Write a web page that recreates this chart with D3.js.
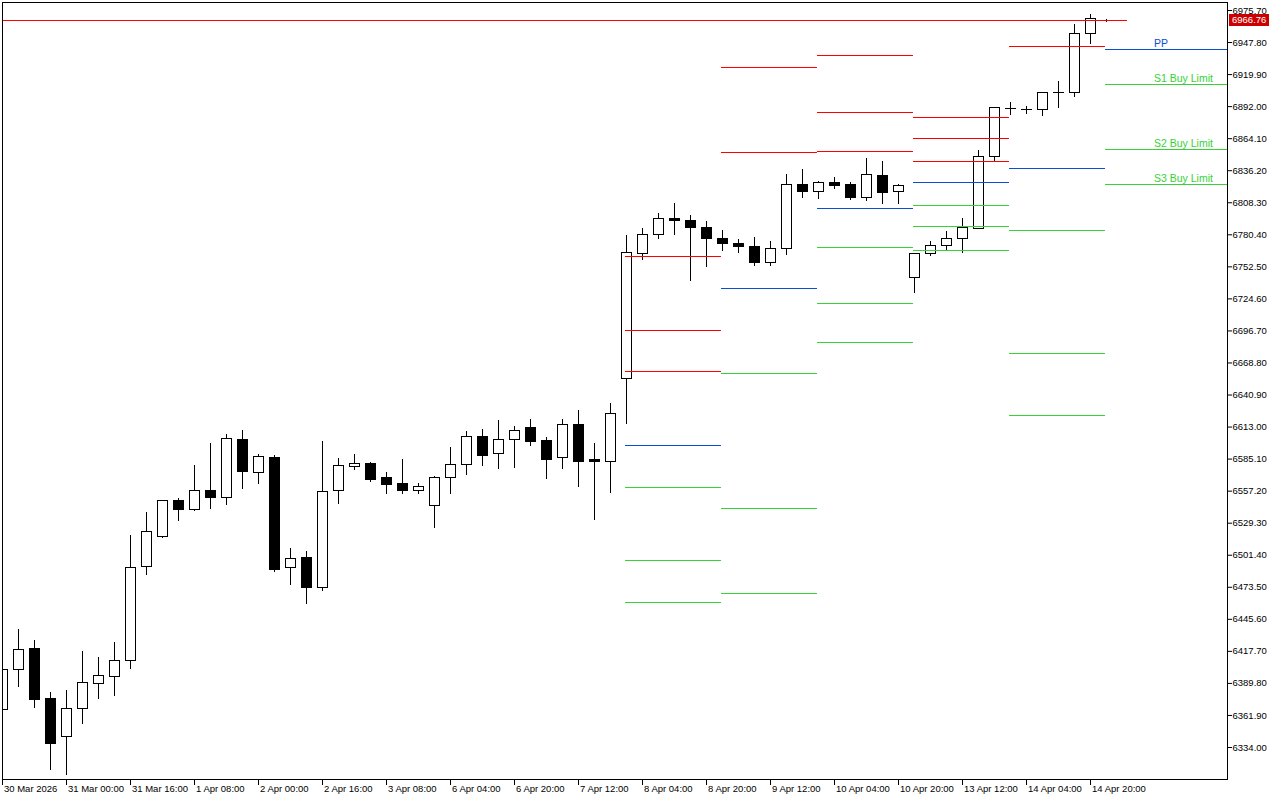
<!DOCTYPE html>
<html><head><meta charset="utf-8">
<script src="https://cdn.jsdelivr.net/npm/d3@7"></script>
<style>
html,body{margin:0;padding:0;background:#fff;}
svg{display:block;}
text{font-family:"Liberation Sans",Arial,sans-serif;}
</style></head><body>
<svg id="chart" width="1280" height="800"></svg>
<script>
// ---- data (4H bars, bar index 0..69) ----
const opens  = [6367.0,6401.6,6419.9,6376.3,6343.3,6367.6,6389.4,6396.0,6409.4,6491.3,
                6517.9,6549.0,6541.4,6557.7,6551.9,6601.9,6573.1,6586.2,6490.4,6499.1,
                6473.5,6557.5,6578.4,6581.2,6568.8,6563.6,6557.5,6544.4,6568.8,6580.1,
                6604.5,6589.7,6601.9,6612.3,6601.0,6586.2,6614.9,6584.5,6583.2,6655.0,
                6763.8,6780.4,6794.3,6792.6,6786.5,6776.9,6772.6,6769.9,6756.0,6768.2,
                6823.9,6817.8,6825.9,6824.2,6812.6,6832.0,6817.8,6742.9,6763.8,6770.8,
                6776.9,6785.6,6848.3,6890.6,6889.6,6889.2,6904.0,6904.0,6955.4,6967.0];
const highs  = [6401.9,6436.4,6427.1,6381.8,6383.6,6417.5,6412.3,6425.4,6518.5,6538.6,
                6549.0,6550.8,6579.5,6598.6,6606.5,6610.0,6589.1,6588.2,6507.2,6504.6,
                6600.4,6585.3,6589.1,6582.1,6573.4,6584.7,6563.8,6569.7,6595.2,6609.1,
                6610.8,6618.7,6613.5,6619.6,6603.9,6619.6,6627.4,6598.6,6633.5,6779.8,
                6785.6,6798.7,6807.6,6796.9,6791.7,6783.9,6776.0,6777.8,6774.3,6832.9,
                6837.0,6826.8,6830.0,6826.2,6846.6,6844.0,6824.2,6763.8,6774.3,6783.0,
                6794.3,6853.5,6891.0,6895.6,6892.1,6904.0,6913.9,6963.5,6972.2,6967.8];
const lows   = [6367.0,6387.1,6369.0,6315.0,6310.7,6355.1,6376.9,6379.2,6403.0,6484.8,
                6517.1,6531.9,6540.6,6542.3,6545.8,6559.7,6564.1,6487.5,6476.1,6459.3,
                6470.9,6546.7,6576.3,6565.8,6555.4,6555.4,6555.4,6525.8,6555.4,6571.9,
                6579.8,6577.1,6578.0,6597.2,6568.4,6577.1,6561.5,6532.7,6556.3,6615.8,
                6759.1,6777.4,6780.9,6740.9,6753.0,6767.0,6764.7,6753.4,6753.4,6763.0,
                6812.9,6812.3,6821.0,6810.9,6810.3,6807.9,6807.4,6730.4,6762.6,6767.0,
                6765.2,6785.6,6844.0,6884.9,6885.8,6884.5,6891.5,6900.8,6947.2,6965.9];
const closes = [6401.9,6419.0,6375.5,6337.7,6367.6,6390.3,6396.4,6409.4,6490.4,6521.8,
                6549.0,6541.4,6557.7,6551.9,6602.7,6574.5,6587.1,6489.2,6498.3,6473.5,
                6556.9,6579.2,6581.0,6567.6,6563.2,6557.5,6561.0,6568.8,6580.1,6604.5,
                6588.5,6601.9,6609.7,6600.7,6585.0,6614.9,6583.2,6583.2,6624.5,6764.7,
                6780.4,6794.3,6792.6,6786.5,6776.9,6772.6,6769.9,6756.0,6768.2,6823.9,
                6818.4,6825.7,6823.6,6812.6,6832.6,6817.5,6823.1,6763.8,6770.8,6776.9,
                6786.5,6848.3,6891.0,6890.1,6889.5,6904.0,6904.1,6955.4,6968.5,6966.76];

const xTickBars   = [0,4,8,12,16,20,24,28,32,36,40,44,48,52,56,60,64,68];
const xTickLabels = ["30 Mar 2026","31 Mar 00:00","31 Mar 16:00","1 Apr 08:00","2 Apr 00:00",
                     "2 Apr 16:00","3 Apr 08:00","6 Apr 04:00","6 Apr 20:00","7 Apr 12:00",
                     "8 Apr 04:00","8 Apr 20:00","9 Apr 12:00","10 Apr 04:00","10 Apr 20:00",
                     "13 Apr 12:00","14 Apr 04:00","14 Apr 20:00"];
const yTickValues = [6334.00,6361.90,6389.80,6417.70,6445.60,6473.50,6501.40,6529.30,
                     6557.20,6585.10,6613.00,6640.90,6668.80,6696.70,6724.60,6752.50,
                     6780.40,6808.30,6836.20,6864.10,6892.00,6919.90,6947.80,6975.70];

// daily pivot levels (start bar of each day)
const pivotStartBars = [39,45,51,57,63,69];
const pivotR  = [[6761.5,6697.1,6661.4],[6926.1,6852.1],[6936.5,6886.9,6852.9],
                 [6882.5,6864.2,6844.2],[6944.4],[]];
const pivotPP = [6596.9,6733.6,6803.3,6825.9,6838.1,6941.7];
const pivotS  = [[6560.3,6496.8,6460.2],[6659.6,6542.1,6468.0],[6769.3,6720.6,6686.6],
                 [6805.9,6787.6,6766.7],[6784.1,6677.0,6623.0],[6911.3,6854.7,6824.2]];
const levelLabels = ["PP","S1 Buy Limit","S2 Buy Limit","S3 Buy Limit"];
const labelBar = 72;
const currentPrice = 6966.76;
const priceLineEndBar = 70.3;

// ---- layout ----
const W = 1280, H = 800;
const plot = {left:2, top:2, right:1227, bottom:779};
const RED = "#ff0000", BLUE = "#0a4fd2", GREEN = "#36d236";

const svg = d3.select("#chart");
svg.append("rect").attr("width",W).attr("height",H).attr("fill","#fff");

const x = d3.scaleLinear().domain([0,69]).range([2,1106]);
const y = d3.scaleLinear().domain([6334.0,6975.7]).range([747,10]);

svg.append("clipPath").attr("id","clip").append("rect")
  .attr("x",plot.left).attr("y",plot.top)
  .attr("width",plot.right-plot.left).attr("height",plot.bottom-plot.top);

const g = svg.append("g").attr("clip-path","url(#clip)");

const bars = d3.range(opens.length).map(i => ({i,o:opens[i],h:highs[i],l:lows[i],c:closes[i]}));

// wicks
g.append("g").selectAll("line").data(bars).join("line")
  .attr("x1",d=>Math.round(x(d.i))+0.5).attr("x2",d=>Math.round(x(d.i))+0.5)
  .attr("y1",d=>Math.round(y(d.h))).attr("y2",d=>Math.round(y(d.l))+1)
  .attr("stroke","#000").attr("stroke-width",1);

// bodies
const bodyG = g.append("g");
bars.forEach(d=>{
  const cx = Math.round(x(d.i));
  const yt = Math.round(y(Math.max(d.o,d.c)));
  const yb = Math.round(y(Math.min(d.o,d.c)));
  if (yb - yt < 1) {
    bodyG.append("line").attr("x1",cx-5).attr("x2",cx+6)
      .attr("y1",yt+0.5).attr("y2",yt+0.5).attr("stroke","#000");
  } else {
    bodyG.append("rect").attr("x",cx-4.5).attr("y",yt+0.5)
      .attr("width",10).attr("height",yb-yt)
      .attr("fill", d.c>=d.o ? "#fff" : "#000").attr("stroke","#000");
  }
});

// pivot lines
const lvl = g.append("g");
pivotStartBars.forEach((sb,k)=>{
  const x1 = Math.round(x(sb)) - 1;
  const x2 = k < pivotStartBars.length-1 ? Math.round(x(pivotStartBars[k+1])) - 1 : plot.right;
  const items = [];
  pivotR[k].forEach(v=>items.push({v,col:RED}));
  items.push({v:pivotPP[k],col:BLUE});
  pivotS[k].forEach(v=>items.push({v,col:GREEN}));
  lvl.selectAll(null).data(items).join("line")
    .attr("x1",x1).attr("x2",x2)
    .attr("y1",d=>Math.round(y(d.v))+0.5).attr("y2",d=>Math.round(y(d.v))+0.5)
    .attr("stroke",d=>d.col).attr("stroke-width",1);
});

// labels for latest day
const lastK = pivotStartBars.length-1;
const lastLevels = [pivotPP[lastK]].concat(pivotS[lastK]);
g.append("g").selectAll("text").data(lastLevels).join("text")
  .attr("x",x(labelBar)).attr("y",d=>Math.round(y(d))-2.5)
  .attr("font-size","10.5px")
  .attr("fill",(d,i)=> i===0 ? BLUE : GREEN)
  .text((d,i)=>levelLabels[i]);

// current price line
g.append("line").attr("x1",plot.left).attr("x2",Math.round(x(priceLineEndBar)))
  .attr("y1",Math.round(y(currentPrice))+0.5).attr("y2",Math.round(y(currentPrice))+0.5)
  .attr("stroke",RED).attr("stroke-width",1);

// frame
svg.append("rect").attr("x",plot.left+0.5).attr("y",plot.top+0.5)
  .attr("width",plot.right-plot.left).attr("height",plot.bottom-plot.top)
  .attr("fill","none").attr("stroke","#000");

// y axis
const yAxis = svg.append("g").attr("transform",`translate(${plot.right},0)`)
  .call(d3.axisRight(y).tickValues(yTickValues).tickFormat(d=>d.toFixed(2)).tickSize(5));
yAxis.select(".domain").remove();
yAxis.selectAll("text").attr("x",5.5).attr("font-size","9.5px")
  .attr("font-family","Liberation Sans, Arial, sans-serif").attr("fill","#000");
yAxis.selectAll("line").attr("stroke","#000");

// x axis
const xAxis = svg.append("g").attr("transform",`translate(0,${plot.bottom})`)
  .call(d3.axisBottom(x).tickValues(xTickBars).tickFormat((d,i)=>xTickLabels[i]).tickSize(6));
xAxis.select(".domain").remove();
xAxis.selectAll("text").attr("text-anchor","start").attr("x",1.5).attr("y",13).attr("dy",0)
  .attr("font-size","9.5px").attr("font-family","Liberation Sans, Arial, sans-serif").attr("fill","#000");
xAxis.selectAll("line").attr("stroke","#000");

// current price tag
const py = Math.round(y(currentPrice));
svg.append("rect").attr("x",plot.right+2).attr("y",py-6).attr("width",40).attr("height",12)
  .attr("fill","#cc0000");
svg.append("text").attr("x",plot.right+5).attr("y",py).attr("dy","0.35em")
  .attr("font-size","9.5px").attr("fill","#fff").text(currentPrice.toFixed(2));
</script>
</body></html>
